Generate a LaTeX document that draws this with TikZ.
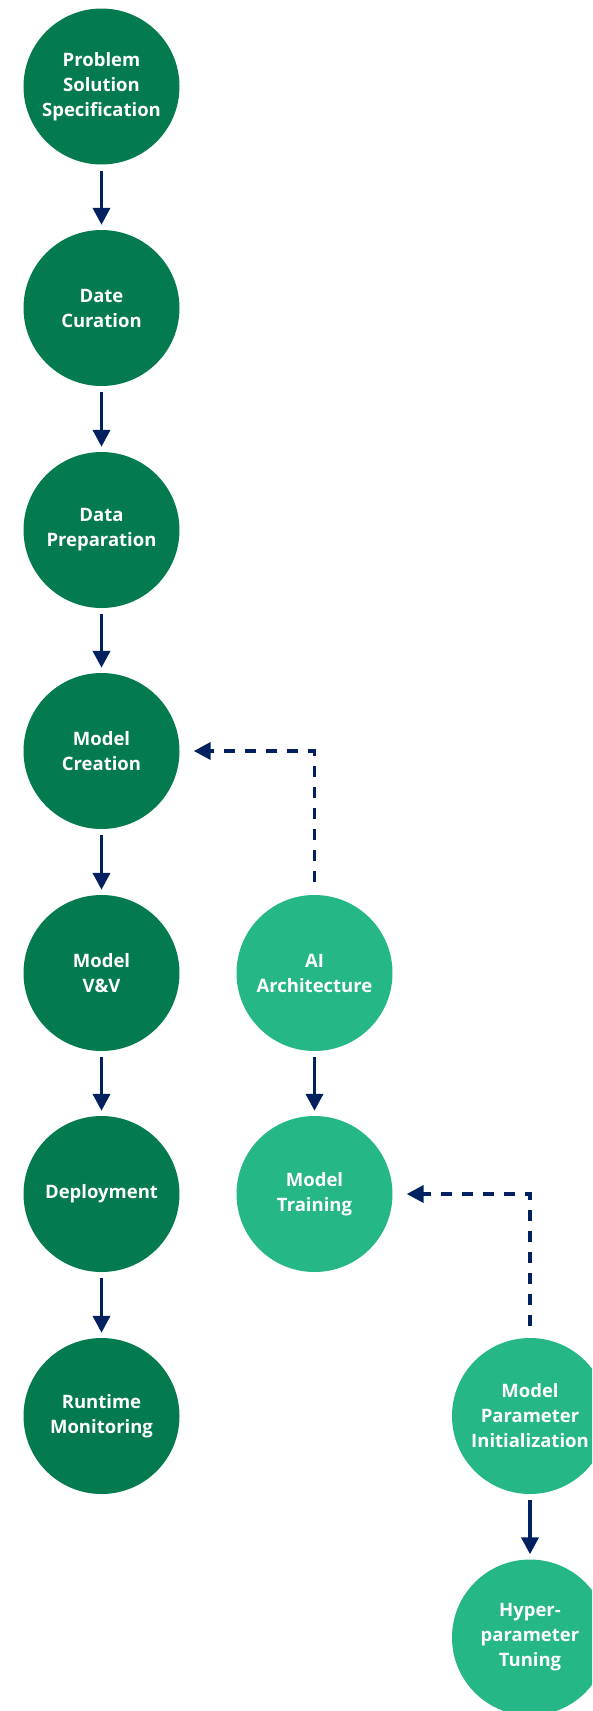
\documentclass[tikz,border=0pt]{standalone}
\usepackage{fontspec}
\setmainfont{Open Sans}
\usetikzlibrary{arrows.meta}
\definecolor{dkgreen}{HTML}{037B4F}
\definecolor{ltgreen}{HTML}{25B785}
\definecolor{navy}{HTML}{002060}
\tikzset{
  stage/.style={circle, fill=dkgreen, minimum size=156pt, inner sep=0pt,
    text=white, align=center, font=\fontsize{18.5}{25}\selectfont\bfseries},
  substage/.style={stage, fill=ltgreen},
  flow/.style={navy, line width=3.8pt, -{Triangle[length=17pt,width=17pt]},
    shorten <=6pt, shorten >=5pt},
  feed/.style={navy, line width=3.8pt, dash pattern=on 11pt off 10pt,
    -{Triangle[length=17pt,width=17pt]}, shorten >=14pt}
}
\begin{document}
\begin{tikzpicture}[x=1pt,y=1pt]
\clip (0,0) rectangle (592,-1711);
\node[stage] (p1) at (101.5,-86.5) {Problem\\Solution\\Specification};
\node[stage] (p2) at (101.5,-308) {Date\\Curation};
\node[stage] (p3) at (101.5,-530) {Data\\Preparation};
\node[stage] (p4) at (101.5,-751) {Model\\Creation};
\node[stage] (p5) at (101.5,-973) {Model\\V\&V};
\node[stage] (p6) at (101.5,-1194) {Deployment};
\node[stage] (p7) at (101.5,-1416) {Runtime\\Monitoring};
\node[substage] (a1) at (314.5,-973) {AI\\Architecture};
\node[substage] (a2) at (314.5,-1194) {Model\\Training};
\node[substage] (b1) at (530,-1416) {Model\\Parameter\\Initialization};
\node[substage] (b2) at (530,-1637.5) {Hyper-\\parameter\\Tuning};
\coordinate (s1) at ([yshift=13pt]a1.north);
\coordinate (s2) at ([yshift=12pt]b1.north);
\foreach \u/\v in {p1/p2,p2/p3,p3/p4,p4/p5,p5/p6,p6/p7,a1/a2,b1/b2}
  \draw[flow] (\u) -- (\v);
\draw[feed] (s1) |- (p4.east);
\draw[feed] (s2) |- (a2.east);
\end{tikzpicture}
\end{document}
